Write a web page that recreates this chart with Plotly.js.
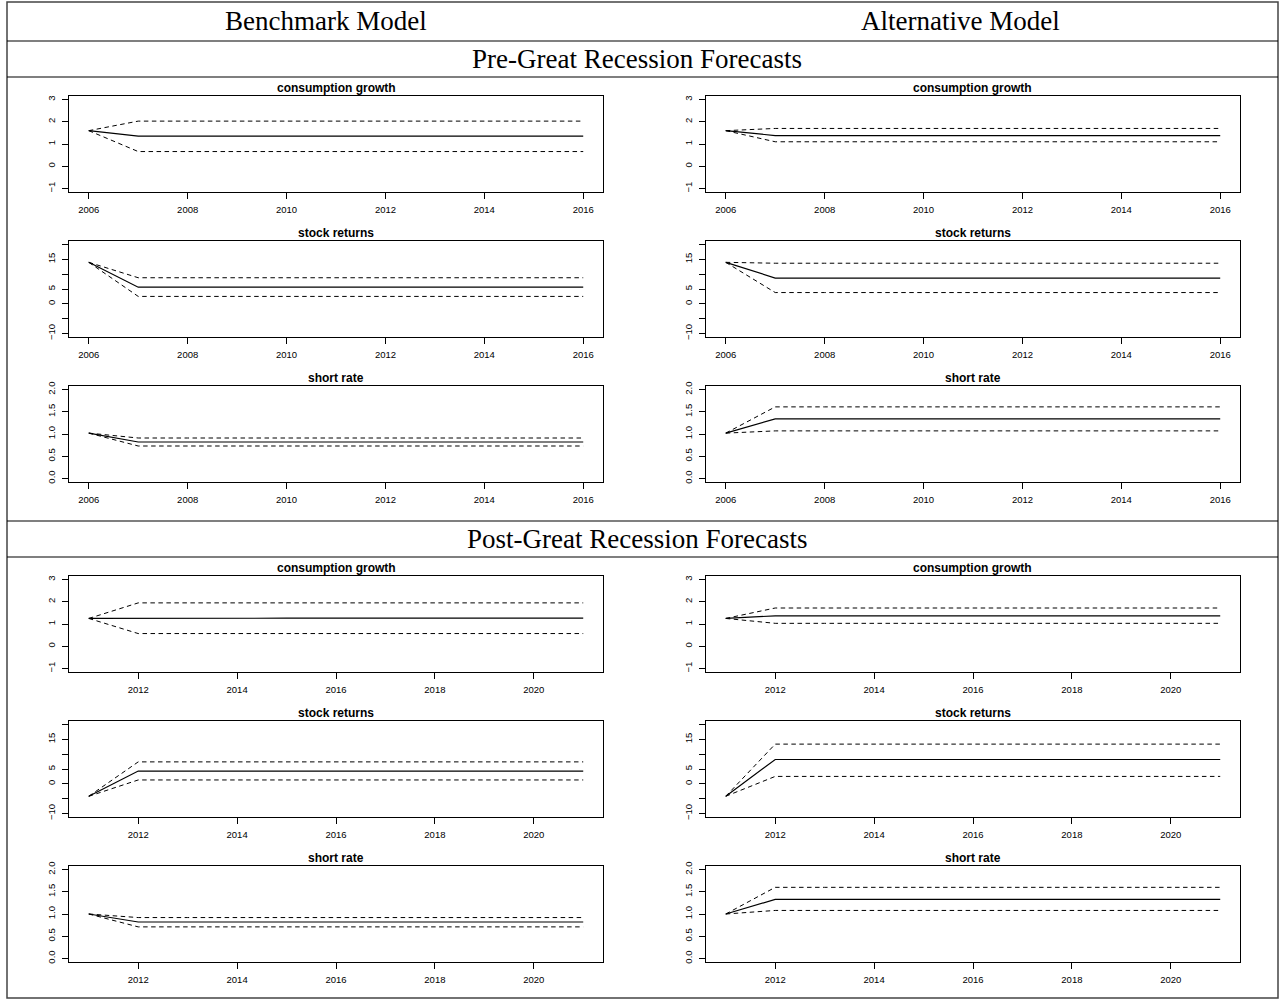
<!DOCTYPE html>
<html>
<head>
<meta charset="utf-8">
<script src="https://cdn.plot.ly/plotly-3.0.1.min.js"></script>
<style>
  html, body { margin: 0; padding: 0; background: #fff; }
  #chart { width: 1281px; height: 999px; }
</style>
</head>
<body>
<div id="chart"></div>
<script>
// ---------------- DATA ----------------
const columnTitles = ["Benchmark Model", "Alternative Model"];
const sectionTitles = ["Pre-Great Recession Forecasts", "Post-Great Recession Forecasts"];
const panelTitles = ["consumption growth", "stock returns", "short rate"];

const yearsPre  = [2006, 2007, 2008, 2009, 2010, 2011, 2012, 2013, 2014, 2015, 2016];
const yearsPost = [2011, 2012, 2013, 2014, 2015, 2016, 2017, 2018, 2019, 2020, 2021];

const xTicksPre  = [2006, 2008, 2010, 2012, 2014, 2016];
const xTicksPost = [2012, 2014, 2016, 2018, 2020];

const yTicksCons  = [-1, 0, 1, 2, 3];
const yLabelsCons = ["\u22121", "0", "1", "2", "3"];
const yTicksStock  = [-10, -5, 0, 5, 10, 15, 20];
const yLabelsStock = ["\u221210", "", "0", "5", "", "15", ""];
const yTicksShort  = [0, 0.5, 1, 1.5, 2];
const yLabelsShort = ["0.0", "0.5", "1.0", "1.5", "2.0"];

// Pre-Great Recession, Benchmark
const preBenchConsMed  = [1.60, 1.35, 1.35, 1.35, 1.35, 1.35, 1.35, 1.35, 1.35, 1.35, 1.35];
const preBenchConsUp   = [1.60, 2.03, 2.03, 2.03, 2.03, 2.03, 2.03, 2.03, 2.03, 2.03, 2.03];
const preBenchConsLo   = [1.60, 0.66, 0.66, 0.66, 0.66, 0.66, 0.66, 0.66, 0.66, 0.66, 0.66];
const preBenchStockMed = [14.0, 5.6, 5.6, 5.6, 5.6, 5.6, 5.6, 5.6, 5.6, 5.6, 5.6];
const preBenchStockUp  = [14.0, 8.8, 8.8, 8.8, 8.8, 8.8, 8.8, 8.8, 8.8, 8.8, 8.8];
const preBenchStockLo  = [14.0, 2.5, 2.5, 2.5, 2.5, 2.5, 2.5, 2.5, 2.5, 2.5, 2.5];
const preBenchShortMed = [1.02, 0.82, 0.82, 0.82, 0.82, 0.82, 0.82, 0.82, 0.82, 0.82, 0.82];
const preBenchShortUp  = [1.02, 0.91, 0.91, 0.91, 0.91, 0.91, 0.91, 0.91, 0.91, 0.91, 0.91];
const preBenchShortLo  = [1.02, 0.73, 0.73, 0.73, 0.73, 0.73, 0.73, 0.73, 0.73, 0.73, 0.73];

// Pre-Great Recession, Alternative
const preAltConsMed  = [1.60, 1.38, 1.38, 1.38, 1.38, 1.38, 1.38, 1.38, 1.38, 1.38, 1.38];
const preAltConsUp   = [1.60, 1.70, 1.70, 1.70, 1.70, 1.70, 1.70, 1.70, 1.70, 1.70, 1.70];
const preAltConsLo   = [1.60, 1.10, 1.10, 1.10, 1.10, 1.10, 1.10, 1.10, 1.10, 1.10, 1.10];
const preAltStockMed = [14.0, 8.7, 8.7, 8.7, 8.7, 8.7, 8.7, 8.7, 8.7, 8.7, 8.7];
const preAltStockUp  = [14.0, 13.7, 13.7, 13.7, 13.7, 13.7, 13.7, 13.7, 13.7, 13.7, 13.7];
const preAltStockLo  = [14.0, 3.8, 3.8, 3.8, 3.8, 3.8, 3.8, 3.8, 3.8, 3.8, 3.8];
const preAltShortMed = [1.02, 1.34, 1.34, 1.34, 1.34, 1.34, 1.34, 1.34, 1.34, 1.34, 1.34];
const preAltShortUp  = [1.02, 1.61, 1.61, 1.61, 1.61, 1.61, 1.61, 1.61, 1.61, 1.61, 1.61];
const preAltShortLo  = [1.02, 1.07, 1.07, 1.07, 1.07, 1.07, 1.07, 1.07, 1.07, 1.07, 1.07];

// Post-Great Recession, Benchmark
const postBenchConsMed  = [1.25, 1.26, 1.26, 1.26, 1.26, 1.26, 1.26, 1.26, 1.26, 1.26, 1.26];
const postBenchConsUp   = [1.25, 1.95, 1.95, 1.95, 1.95, 1.95, 1.95, 1.95, 1.95, 1.95, 1.95];
const postBenchConsLo   = [1.25, 0.57, 0.57, 0.57, 0.57, 0.57, 0.57, 0.57, 0.57, 0.57, 0.57];
const postBenchStockMed = [-4.2, 4.3, 4.3, 4.3, 4.3, 4.3, 4.3, 4.3, 4.3, 4.3, 4.3];
const postBenchStockUp  = [-4.2, 7.4, 7.4, 7.4, 7.4, 7.4, 7.4, 7.4, 7.4, 7.4, 7.4];
const postBenchStockLo  = [-4.2, 1.3, 1.3, 1.3, 1.3, 1.3, 1.3, 1.3, 1.3, 1.3, 1.3];
const postBenchShortMed = [1.00, 0.82, 0.82, 0.82, 0.82, 0.82, 0.82, 0.82, 0.82, 0.82, 0.82];
const postBenchShortUp  = [1.00, 0.92, 0.92, 0.92, 0.92, 0.92, 0.92, 0.92, 0.92, 0.92, 0.92];
const postBenchShortLo  = [1.00, 0.71, 0.71, 0.71, 0.71, 0.71, 0.71, 0.71, 0.71, 0.71, 0.71];

// Post-Great Recession, Alternative
const postAltConsMed  = [1.25, 1.37, 1.37, 1.37, 1.37, 1.37, 1.37, 1.37, 1.37, 1.37, 1.37];
const postAltConsUp   = [1.25, 1.72, 1.72, 1.72, 1.72, 1.72, 1.72, 1.72, 1.72, 1.72, 1.72];
const postAltConsLo   = [1.25, 1.03, 1.03, 1.03, 1.03, 1.03, 1.03, 1.03, 1.03, 1.03, 1.03];
const postAltStockMed = [-4.2, 8.2, 8.2, 8.2, 8.2, 8.2, 8.2, 8.2, 8.2, 8.2, 8.2];
const postAltStockUp  = [-4.2, 13.4, 13.4, 13.4, 13.4, 13.4, 13.4, 13.4, 13.4, 13.4, 13.4];
const postAltStockLo  = [-4.2, 2.5, 2.5, 2.5, 2.5, 2.5, 2.5, 2.5, 2.5, 2.5, 2.5];
const postAltShortMed = [1.00, 1.33, 1.33, 1.33, 1.33, 1.33, 1.33, 1.33, 1.33, 1.33, 1.33];
const postAltShortUp  = [1.00, 1.60, 1.60, 1.60, 1.60, 1.60, 1.60, 1.60, 1.60, 1.60, 1.60];
const postAltShortLo  = [1.00, 1.08, 1.08, 1.08, 1.08, 1.08, 1.08, 1.08, 1.08, 1.08, 1.08];

// ---------------- LAYOUT HELPERS ----------------
const W = 1281, H = 999;
const px = v => v / W;
const py = v => 1 - v / H;

const colX = [[69, 603], [706, 1240]];
const rowTops = [[96, 241, 386], [576, 721, 866]];
const boxH = 96;

const sections = [
  { years: yearsPre, ticks: xTicksPre,
    series: [
      [[preBenchConsMed, preBenchConsUp, preBenchConsLo], [preAltConsMed, preAltConsUp, preAltConsLo]],
      [[preBenchStockMed, preBenchStockUp, preBenchStockLo], [preAltStockMed, preAltStockUp, preAltStockLo]],
      [[preBenchShortMed, preBenchShortUp, preBenchShortLo], [preAltShortMed, preAltShortUp, preAltShortLo]]
    ] },
  { years: yearsPost, ticks: xTicksPost,
    series: [
      [[postBenchConsMed, postBenchConsUp, postBenchConsLo], [postAltConsMed, postAltConsUp, postAltConsLo]],
      [[postBenchStockMed, postBenchStockUp, postBenchStockLo], [postAltStockMed, postAltStockUp, postAltStockLo]],
      [[postBenchShortMed, postBenchShortUp, postBenchShortLo], [postAltShortMed, postAltShortUp, postAltShortLo]]
    ] }
];
const yAxesSpec = [
  { tickvals: yTicksCons, ticktext: yLabelsCons, lim: [-1, 3] },
  { tickvals: yTicksStock, ticktext: yLabelsStock, lim: [-10, 20] },
  { tickvals: yTicksShort, ticktext: yLabelsShort, lim: [0, 2] }
];

function rRange(lim) { const d = (lim[1] - lim[0]) * 0.04; return [lim[0] - d, lim[1] + d]; }

const tickFont = { family: "Liberation Sans, Arial, sans-serif", size: 9.5, color: "#000" };

const traces = [];
const layout = {
  width: W, height: H,
  margin: { l: 0, r: 0, t: 0, b: 0, pad: 0 },
  paper_bgcolor: "#fff", plot_bgcolor: "#fff",
  showlegend: false,
  annotations: [], shapes: []
};

let k = 0;
sections.forEach((sec, s) => {
  const xlim = [sec.years[0], sec.years[sec.years.length - 1]];
  for (let r = 0; r < 3; r++) {
    for (let c = 0; c < 2; c++) {
      k++;
      const xa = k === 1 ? "xaxis" : "xaxis" + k;
      const ya = k === 1 ? "yaxis" : "yaxis" + k;
      const xr = k === 1 ? "x" : "x" + k;
      const yr = k === 1 ? "y" : "y" + k;
      const top = rowTops[s][r];
      const [x0, x1] = colX[c];
      layout[xa] = {
        domain: [px(x0), px(x1)], anchor: yr, range: rRange(xlim),
        tickmode: "array", tickvals: sec.ticks, ticktext: sec.ticks.map(String),
        ticks: "outside", ticklen: 6, tickwidth: 1, tickcolor: "#000",
        showline: true, mirror: true, linecolor: "#000", linewidth: 1,
        showgrid: false, zeroline: false, tickfont: tickFont, ticklabelstandoff: 3,
        fixedrange: true
      };
      const ys = yAxesSpec[r];
      layout[ya] = {
        domain: [py(top + boxH), py(top)], anchor: xr, range: rRange(ys.lim),
        tickmode: "array", tickvals: ys.tickvals, ticktext: ys.ticktext,
        ticks: "outside", ticklen: 6, tickwidth: 1, tickcolor: "#000",
        showline: true, mirror: true, linecolor: "#000", linewidth: 1,
        showgrid: false, zeroline: false, tickfont: tickFont, tickangle: -90,
        ticklabelstandoff: 3, fixedrange: true
      };
      const [med, up, lo] = sec.series[r][c];
      traces.push({ x: sec.years, y: med, xaxis: xr, yaxis: yr, type: "scatter", mode: "lines",
        line: { color: "#000", width: 1.2 }, hoverinfo: "skip" });
      traces.push({ x: sec.years, y: up, xaxis: xr, yaxis: yr, type: "scatter", mode: "lines",
        line: { color: "#000", width: 1, dash: "4.5px,3.5px" }, hoverinfo: "skip" });
      traces.push({ x: sec.years, y: lo, xaxis: xr, yaxis: yr, type: "scatter", mode: "lines",
        line: { color: "#000", width: 1, dash: "4.5px,3.5px" }, hoverinfo: "skip" });
      layout.annotations.push({
        text: "<b>" + panelTitles[r] + "</b>", xref: "paper", yref: "paper",
        x: px((x0 + x1) / 2), y: py(top - 8), xanchor: "center", yanchor: "middle",
        showarrow: false, font: { family: "Liberation Sans, Arial, sans-serif", size: 12, color: "#000" }
      });
    }
  }
});

// Table frame and headers
const headFont = { family: "Liberation Serif, Times New Roman, serif", size: 27, color: "#000" };
layout.annotations.push({ text: columnTitles[0], xref: "paper", yref: "paper", x: px(326), y: py(21),
  xanchor: "center", yanchor: "middle", showarrow: false, font: headFont });
layout.annotations.push({ text: columnTitles[1], xref: "paper", yref: "paper", x: px(961), y: py(21),
  xanchor: "center", yanchor: "middle", showarrow: false, font: headFont });
layout.annotations.push({ text: sectionTitles[0], xref: "paper", yref: "paper", x: px(637), y: py(59),
  xanchor: "center", yanchor: "middle", showarrow: false, font: headFont });
layout.annotations.push({ text: sectionTitles[1], xref: "paper", yref: "paper", x: px(637), y: py(539),
  xanchor: "center", yanchor: "middle", showarrow: false, font: headFont });

layout.shapes.push({ type: "rect", xref: "paper", yref: "paper", x0: px(7), x1: px(1278), y0: py(2), y1: py(998),
  line: { color: "#444", width: 1.5 }, fillcolor: "rgba(0,0,0,0)" });
[41, 77, 521, 557].forEach(yy => layout.shapes.push({ type: "line", xref: "paper", yref: "paper",
  x0: px(7), x1: px(1278), y0: py(yy), y1: py(yy), line: { color: "#000", width: 1.2 } }));

Plotly.newPlot("chart", traces, layout, { staticPlot: true, displayModeBar: false });
</script>
</body>
</html>
